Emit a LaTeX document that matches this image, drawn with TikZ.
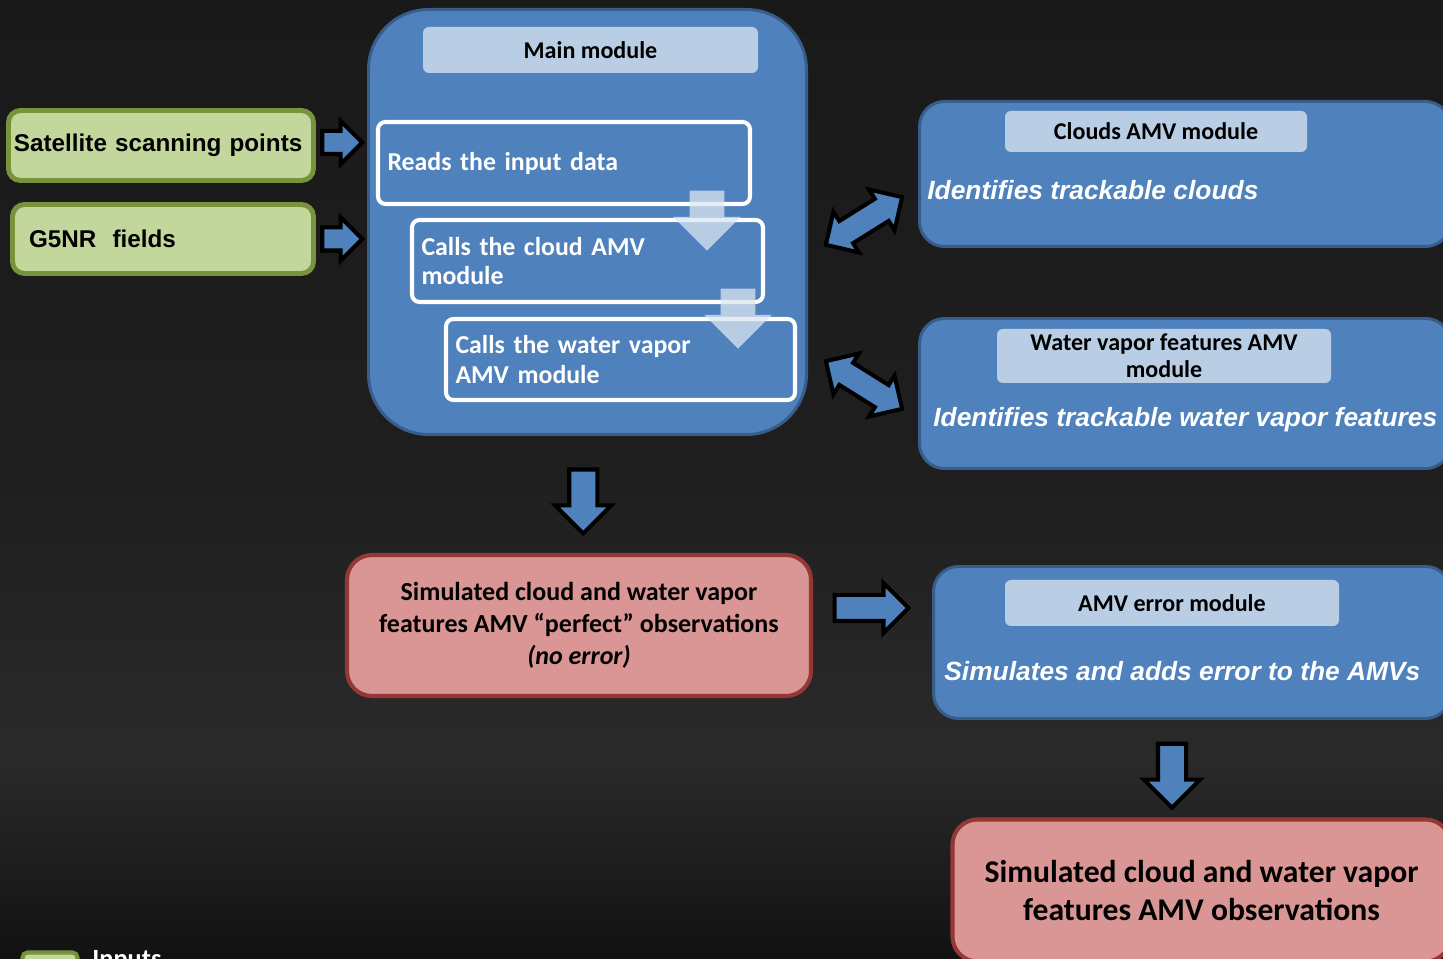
\documentclass[tikz,border=0pt]{standalone}
\usepackage{fontspec}
\setmainfont{Carlito}
\newfontfamily\arialfont{Liberation Sans}
\usetikzlibrary{shapes.arrows,calc}
\definecolor{steel}{RGB}{79, 129, 189}
\definecolor{navy}{RGB}{56, 93, 138}
\definecolor{mist}{RGB}{185, 205, 229}
\definecolor{pale}{RGB}{220, 230, 242}
\definecolor{moss}{RGB}{119, 147, 60}
\definecolor{leaf}{RGB}{195, 214, 155}
\definecolor{brick}{RGB}{149, 55, 53}
\definecolor{rose}{RGB}{217, 150, 148}
\definecolor{coal}{RGB}{25, 25, 25}
\definecolor{smoke}{RGB}{31, 31, 31}
\definecolor{ash}{RGB}{42, 42, 42}
\definecolor{soot}{RGB}{17, 17, 17}

\begin{document}
\begin{tikzpicture}[
    modbox/.style={draw=navy, line width=1.7pt, fill=steel, rounded corners=0.5cm, inner sep=0pt},
    headbox/.style={fill=mist, rounded corners=0.12cm, inner sep=0pt, align=center,
                    font=\bfseries\fontsize{13.7}{15.4}\selectfont},
    taskbox/.style={draw=white, line width=2.3pt, fill=steel, rounded corners=0.15cm, inner xsep=0.19cm,
                    align=left, text=white, font=\bfseries\fontsize{14.7}{17}\selectfont},
    inbox/.style={draw=moss, line width=2.8pt, fill=leaf, rounded corners=0.24cm, align=left,
                  font=\arialfont\bfseries\fontsize{13.8}{16}\selectfont},
    outbox/.style={draw=brick, line width=2.3pt, fill=rose, rounded corners=0.5cm, align=center},
    dutytext/.style={text=white, inner sep=0pt, anchor=west, font=\arialfont\bfseries\itshape\fontsize{15}{18}\selectfont},
    fatarrow/.style={draw=black, line width=2.3pt, fill=steel, inner xsep=0pt, single arrow},
    fatpair/.style={draw=black, line width=2.3pt, fill=steel, inner xsep=0pt, inner ysep=0.22cm, double arrow,
                    double arrow head extend=0.22cm, minimum height=1.8cm, minimum width=0.88cm},
    hintarrow/.style={fill=pale, fill opacity=0.75, inner xsep=0pt, inner ysep=0.34cm, single arrow,
                      single arrow head extend=0.33cm, minimum height=1.2cm, minimum width=1.34cm, rotate=-90}
]
            % Frame & background
            \useasboundingbox (0.00, 0.00) rectangle (28.86,-19.18);
            \clip             (0.00, 0.00) rectangle (28.86,-19.18);
            \shade[top color=coal,  bottom color=smoke] (-0.10, 0.10) rectangle (28.96, -9.62);
            \shade[top color=smoke, bottom color=ash]   (-0.10,-9.60) rectangle (28.96,-15.22);
            \shade[top color=ash,   bottom color=soot]  (-0.10,-15.20) rectangle (28.96,-19.28);

            % Inputs
            \node[inbox, text width=5.88cm, inner xsep=0.11cm, minimum height=1.40cm] (sat)  at ( 3.22,-2.91) {Satellite scanning points};
            \node[inbox, text width=5.36cm, inner xsep=0.33cm, minimum height=1.38cm] (g5nr) at ( 3.26,-4.78) {G5NR\ \ fields};

            % Main module
            \node[modbox, rounded corners=1.2cm, minimum width=8.76cm, minimum height=8.50cm] (main) at (11.75,-4.44) {};
            \node[headbox, minimum width=6.70cm, minimum height=0.92cm] (maintitle) at (11.81,-1.00) {Main module};
            \node[taskbox, text width=7.06cm, minimum height=1.64cm] (reads)    at (11.28,-3.26) {Reads the input data};
            \node[taskbox, text width=6.64cm, minimum height=1.64cm] (callcld)  at (11.75,-5.22) {Calls the cloud AMV\\module};
            \node[taskbox, text width=6.60cm, minimum height=1.62cm] (callwv)   at (12.41,-7.19) {Calls the water vapor\\AMV module};
            \node[hintarrow] (stepA) at (14.14,-4.24) {};
            \node[hintarrow] (stepB) at (14.76,-6.20) {};

            % Clouds AMV module
            \node[modbox, minimum width=10.62cm, minimum height=2.90cm] (clouds) at (23.70,-3.48) {};
            \node[headbox, minimum width=6.04cm, minimum height=0.82cm] (cldtitle) at (23.12,-2.63) {Clouds AMV module};
            \node[dutytext] (cldduty) at (18.54,-3.80) {Identifies trackable clouds};

            % Water vapor module
            \node[modbox, minimum width=10.62cm, minimum height=3.00cm] (vapor) at (23.70,-7.87) {};
            \node[headbox, minimum width=6.68cm, minimum height=1.08cm] (wvtitle) at (23.28,-7.12) {Water vapor features AMV\\module};
            \node[dutytext] (wvduty) at (18.66,-8.40) {Identifies trackable water vapor features};

            % AMV error module
            \node[modbox, minimum width=10.34cm, minimum height=3.04cm] (error) at (23.84,-12.85) {};
            \node[headbox, minimum width=6.68cm, minimum height=0.92cm] (errtitle) at (23.44,-12.06) {AMV error module};
            \node[dutytext] (errduty) at (18.88,-13.42) {Simulates and adds error to the AMVs};

            % Outputs
            \node[outbox, minimum width=9.28cm, minimum height=2.82cm, font=\bfseries\fontsize{14.8}{18.2}\selectfont] (perfect) at (11.58,-12.51)
                 {Simulated cloud and water vapor\\features AMV “perfect” observations\\\textit{(no error)}};
            \node[outbox, minimum width=9.96cm, minimum height=2.84cm, font=\bfseries\fontsize{18}{21.6}\selectfont] (final) at (24.03,-17.81)
                 {Simulated cloud and water vapor\\features AMV observations};

            % Block arrows
            \node[fatarrow, inner ysep=0.19cm, minimum height=0.80cm, minimum width=0.78cm, single arrow head extend=0.20cm,
                  xshift=-0.10cm, yshift=0.06cm] (feedA)
                 at ($(sat.east)!0.5!(sat.east -| main.west)$) {};
            \node[fatarrow, inner ysep=0.19cm, minimum height=0.80cm, minimum width=0.78cm, single arrow head extend=0.20cm,
                  xshift=-0.10cm] (feedB)
                 at ($(g5nr.east)!0.5!(g5nr.east -| main.west)$) {};
            \node[fatpair, rotate= 32] (swapA) at (17.28,-4.42) {};
            \node[fatpair, rotate=-32] (swapB) at (17.28,-7.70) {};
            \node[fatarrow, rotate=-90, inner ysep=0.24cm, minimum height=1.28cm, minimum width=1.04cm, single arrow head extend=0.28cm] (dropA)
                 at ($(main.south)!0.5!(perfect.north)$) {};
            \node[fatarrow, inner ysep=0.22cm, minimum height=1.48cm, minimum width=0.92cm, single arrow head extend=0.24cm,
                  xshift=-0.15cm, yshift=0.35cm] (pass)
                 at ($(perfect.east)!0.5!(perfect.east -| error.west)$) {};
            \node[fatarrow, rotate=-90, inner ysep=0.24cm, minimum height=1.28cm, minimum width=1.04cm, single arrow head extend=0.28cm] (dropB)
                 at ($(errtitle |- error.south)!0.5!(errtitle |- final.north)$) {};

            % Legend
            \node[draw=moss, line width=2.3pt, fill=leaf, rounded corners=0.10cm, minimum width=1.10cm, minimum height=0.50cm] (key) at ( 1.00,-19.30) {};
            \node[anchor=base west, inner sep=0pt, text=white, font=\bfseries\fontsize{15}{17}\selectfont] (keytext) at ( 1.84,-19.34) {Inputs};
\end{tikzpicture}
\end{document}
